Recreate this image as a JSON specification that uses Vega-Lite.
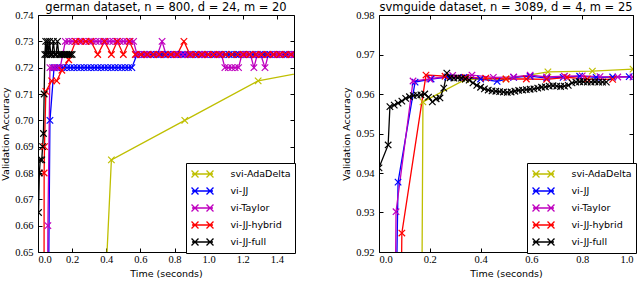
{
  "$schema": "https://vega.github.io/schema/vega-lite/v6.json",
  "padding": {"left": 0, "top": 1, "right": 0, "bottom": 0},
  "config": {
    "view": {"stroke": "#000000", "strokeWidth": 1},
    "font": "DejaVu Sans",
    "axis": {"domain": false, "grid": false, "tickColor": "#000000", "tickSize": -4, "labelPadding": 9, "labelFont": "Liberation Serif", "labelFontSize": 10.5, "labelColor": "#000000", "titleFont": "DejaVu Sans", "titleFontSize": 9.5, "titleFontWeight": "normal", "titleColor": "#000000"},
    "axisX": {"labelPadding": 6},
    "title": {"font": "DejaVu Sans", "fontSize": 11.5, "fontWeight": "normal", "offset": -3, "color": "#000000"},
    "legend": {"orient": "none", "legendX": 148, "legendY": 148, "strokeColor": "#000000", "fillColor": "#ffffff", "padding": 4, "cornerRadius": 0, "title": null,
      "symbolType": "M-1.75,0L1.75,0M-1.83,-0.58L-0.67,0.58M-1.83,0.58L-0.67,-0.58M0.67,-0.58L1.83,0.58M0.67,0.58L1.83,-0.58",
      "symbolSize": 144, "symbolStrokeWidth": 1.3, "symbolOffset": 5.5, "labelOffset": 21, "labelFont": "DejaVu Sans", "labelFontSize": 9.5, "labelColor": "#000000", "rowPadding": 3}
  },
  "datasets": {
    "german": [
      {"m": "svi-AdaDelta", "t": 0.39, "a": 0.63},
      {"m": "svi-AdaDelta", "t": 0.43, "a": 0.685},
      {"m": "svi-AdaDelta", "t": 0.86, "a": 0.700},
      {"m": "svi-AdaDelta", "t": 1.29, "a": 0.715},
      {"m": "svi-AdaDelta", "t": 1.70, "a": 0.720},

      {"m": "vi-JJ", "t": 0.057, "a": 0.60},
      {"m": "vi-JJ", "t": 0.07, "a": 0.70},
      {"m": "vi-JJ", "t": 0.094, "a": 0.72},
      {"m": "vi-JJ", "t": 0.11, "a": 0.72},
      {"m": "vi-JJ", "t": 0.13, "a": 0.72},
      {"m": "vi-JJ", "t": 0.15, "a": 0.72},
      {"m": "vi-JJ", "t": 0.17, "a": 0.72},
      {"m": "vi-JJ", "t": 0.19, "a": 0.72},
      {"m": "vi-JJ", "t": 0.21, "a": 0.72},
      {"m": "vi-JJ", "t": 0.23, "a": 0.72},
      {"m": "vi-JJ", "t": 0.25, "a": 0.72},
      {"m": "vi-JJ", "t": 0.27, "a": 0.72},
      {"m": "vi-JJ", "t": 0.29, "a": 0.72},
      {"m": "vi-JJ", "t": 0.31, "a": 0.72},
      {"m": "vi-JJ", "t": 0.33, "a": 0.72},
      {"m": "vi-JJ", "t": 0.35, "a": 0.72},
      {"m": "vi-JJ", "t": 0.37, "a": 0.72},
      {"m": "vi-JJ", "t": 0.39, "a": 0.72},
      {"m": "vi-JJ", "t": 0.41, "a": 0.72},
      {"m": "vi-JJ", "t": 0.43, "a": 0.72},
      {"m": "vi-JJ", "t": 0.45, "a": 0.72},
      {"m": "vi-JJ", "t": 0.47, "a": 0.72},
      {"m": "vi-JJ", "t": 0.49, "a": 0.72},
      {"m": "vi-JJ", "t": 0.51, "a": 0.72},
      {"m": "vi-JJ", "t": 0.53, "a": 0.72},
      {"m": "vi-JJ", "t": 0.55, "a": 0.72},
      {"m": "vi-JJ", "t": 0.58, "a": 0.725},
      {"m": "vi-JJ", "t": 0.60, "a": 0.725},
      {"m": "vi-JJ", "t": 0.62, "a": 0.725},
      {"m": "vi-JJ", "t": 0.64, "a": 0.725},
      {"m": "vi-JJ", "t": 0.66, "a": 0.725},
      {"m": "vi-JJ", "t": 0.68, "a": 0.725},
      {"m": "vi-JJ", "t": 0.70, "a": 0.725},
      {"m": "vi-JJ", "t": 0.72, "a": 0.725},
      {"m": "vi-JJ", "t": 0.74, "a": 0.725},
      {"m": "vi-JJ", "t": 0.76, "a": 0.725},
      {"m": "vi-JJ", "t": 0.78, "a": 0.725},
      {"m": "vi-JJ", "t": 0.80, "a": 0.725},
      {"m": "vi-JJ", "t": 0.82, "a": 0.725},
      {"m": "vi-JJ", "t": 0.84, "a": 0.725},
      {"m": "vi-JJ", "t": 0.86, "a": 0.725},
      {"m": "vi-JJ", "t": 0.88, "a": 0.725},
      {"m": "vi-JJ", "t": 0.90, "a": 0.725},
      {"m": "vi-JJ", "t": 0.92, "a": 0.725},
      {"m": "vi-JJ", "t": 0.94, "a": 0.725},
      {"m": "vi-JJ", "t": 0.96, "a": 0.725},
      {"m": "vi-JJ", "t": 0.98, "a": 0.725},
      {"m": "vi-JJ", "t": 1.00, "a": 0.725},
      {"m": "vi-JJ", "t": 1.02, "a": 0.725},
      {"m": "vi-JJ", "t": 1.04, "a": 0.725},
      {"m": "vi-JJ", "t": 1.06, "a": 0.725},
      {"m": "vi-JJ", "t": 1.08, "a": 0.725},
      {"m": "vi-JJ", "t": 1.10, "a": 0.725},
      {"m": "vi-JJ", "t": 1.12, "a": 0.725},
      {"m": "vi-JJ", "t": 1.14, "a": 0.725},
      {"m": "vi-JJ", "t": 1.16, "a": 0.725},
      {"m": "vi-JJ", "t": 1.18, "a": 0.725},
      {"m": "vi-JJ", "t": 1.20, "a": 0.725},
      {"m": "vi-JJ", "t": 1.22, "a": 0.725},
      {"m": "vi-JJ", "t": 1.24, "a": 0.725},
      {"m": "vi-JJ", "t": 1.26, "a": 0.725},
      {"m": "vi-JJ", "t": 1.28, "a": 0.725},
      {"m": "vi-JJ", "t": 1.30, "a": 0.725},
      {"m": "vi-JJ", "t": 1.32, "a": 0.725},
      {"m": "vi-JJ", "t": 1.34, "a": 0.725},
      {"m": "vi-JJ", "t": 1.36, "a": 0.725},
      {"m": "vi-JJ", "t": 1.38, "a": 0.725},
      {"m": "vi-JJ", "t": 1.40, "a": 0.725},
      {"m": "vi-JJ", "t": 1.42, "a": 0.725},
      {"m": "vi-JJ", "t": 1.44, "a": 0.725},
      {"m": "vi-JJ", "t": 1.46, "a": 0.725},
      {"m": "vi-JJ", "t": 1.48, "a": 0.725},
      {"m": "vi-JJ", "t": 1.50, "a": 0.725},

      {"m": "vi-Taylor", "t": 0.053, "a": 0.60},
      {"m": "vi-Taylor", "t": 0.058, "a": 0.66},
      {"m": "vi-Taylor", "t": 0.07, "a": 0.72},
      {"m": "vi-Taylor", "t": 0.085, "a": 0.72},
      {"m": "vi-Taylor", "t": 0.10, "a": 0.72},
      {"m": "vi-Taylor", "t": 0.115, "a": 0.72},
      {"m": "vi-Taylor", "t": 0.13, "a": 0.72},
      {"m": "vi-Taylor", "t": 0.16, "a": 0.73},
      {"m": "vi-Taylor", "t": 0.18, "a": 0.73},
      {"m": "vi-Taylor", "t": 0.20, "a": 0.73},
      {"m": "vi-Taylor", "t": 0.22, "a": 0.73},
      {"m": "vi-Taylor", "t": 0.24, "a": 0.73},
      {"m": "vi-Taylor", "t": 0.26, "a": 0.73},
      {"m": "vi-Taylor", "t": 0.28, "a": 0.73},
      {"m": "vi-Taylor", "t": 0.30, "a": 0.73},
      {"m": "vi-Taylor", "t": 0.32, "a": 0.73},
      {"m": "vi-Taylor", "t": 0.34, "a": 0.73},
      {"m": "vi-Taylor", "t": 0.36, "a": 0.73},
      {"m": "vi-Taylor", "t": 0.38, "a": 0.73},
      {"m": "vi-Taylor", "t": 0.40, "a": 0.73},
      {"m": "vi-Taylor", "t": 0.42, "a": 0.73},
      {"m": "vi-Taylor", "t": 0.44, "a": 0.73},
      {"m": "vi-Taylor", "t": 0.46, "a": 0.73},
      {"m": "vi-Taylor", "t": 0.48, "a": 0.73},
      {"m": "vi-Taylor", "t": 0.50, "a": 0.73},
      {"m": "vi-Taylor", "t": 0.52, "a": 0.73},
      {"m": "vi-Taylor", "t": 0.54, "a": 0.73},
      {"m": "vi-Taylor", "t": 0.56, "a": 0.73},
      {"m": "vi-Taylor", "t": 0.58, "a": 0.725},
      {"m": "vi-Taylor", "t": 0.60, "a": 0.725},
      {"m": "vi-Taylor", "t": 0.625, "a": 0.725},
      {"m": "vi-Taylor", "t": 0.65, "a": 0.725},
      {"m": "vi-Taylor", "t": 0.675, "a": 0.725},
      {"m": "vi-Taylor", "t": 0.70, "a": 0.725},
      {"m": "vi-Taylor", "t": 0.727, "a": 0.73},
      {"m": "vi-Taylor", "t": 0.75, "a": 0.725},
      {"m": "vi-Taylor", "t": 0.775, "a": 0.725},
      {"m": "vi-Taylor", "t": 0.80, "a": 0.725},
      {"m": "vi-Taylor", "t": 0.825, "a": 0.725},
      {"m": "vi-Taylor", "t": 0.85, "a": 0.725},
      {"m": "vi-Taylor", "t": 0.875, "a": 0.725},
      {"m": "vi-Taylor", "t": 0.90, "a": 0.725},
      {"m": "vi-Taylor", "t": 0.925, "a": 0.725},
      {"m": "vi-Taylor", "t": 0.95, "a": 0.725},
      {"m": "vi-Taylor", "t": 0.975, "a": 0.725},
      {"m": "vi-Taylor", "t": 1.00, "a": 0.725},
      {"m": "vi-Taylor", "t": 1.025, "a": 0.725},
      {"m": "vi-Taylor", "t": 1.05, "a": 0.725},
      {"m": "vi-Taylor", "t": 1.075, "a": 0.725},
      {"m": "vi-Taylor", "t": 1.095, "a": 0.72},
      {"m": "vi-Taylor", "t": 1.115, "a": 0.72},
      {"m": "vi-Taylor", "t": 1.135, "a": 0.72},
      {"m": "vi-Taylor", "t": 1.155, "a": 0.72},
      {"m": "vi-Taylor", "t": 1.175, "a": 0.72},
      {"m": "vi-Taylor", "t": 1.195, "a": 0.725},
      {"m": "vi-Taylor", "t": 1.22, "a": 0.725},
      {"m": "vi-Taylor", "t": 1.245, "a": 0.725},
      {"m": "vi-Taylor", "t": 1.265, "a": 0.72},
      {"m": "vi-Taylor", "t": 1.285, "a": 0.725},
      {"m": "vi-Taylor", "t": 1.305, "a": 0.725},
      {"m": "vi-Taylor", "t": 1.33, "a": 0.72},
      {"m": "vi-Taylor", "t": 1.35, "a": 0.725},
      {"m": "vi-Taylor", "t": 1.375, "a": 0.725},
      {"m": "vi-Taylor", "t": 1.40, "a": 0.725},
      {"m": "vi-Taylor", "t": 1.425, "a": 0.725},
      {"m": "vi-Taylor", "t": 1.45, "a": 0.725},
      {"m": "vi-Taylor", "t": 1.475, "a": 0.725},
      {"m": "vi-Taylor", "t": 1.50, "a": 0.725},

      {"m": "vi-JJ-hybrid", "t": 0.034, "a": 0.55},
      {"m": "vi-JJ-hybrid", "t": 0.036, "a": 0.68},
      {"m": "vi-JJ-hybrid", "t": 0.038, "a": 0.69},
      {"m": "vi-JJ-hybrid", "t": 0.046, "a": 0.711},
      {"m": "vi-JJ-hybrid", "t": 0.08, "a": 0.715},
      {"m": "vi-JJ-hybrid", "t": 0.11, "a": 0.715},
      {"m": "vi-JJ-hybrid", "t": 0.14, "a": 0.719},
      {"m": "vi-JJ-hybrid", "t": 0.18, "a": 0.723},
      {"m": "vi-JJ-hybrid", "t": 0.22, "a": 0.73},
      {"m": "vi-JJ-hybrid", "t": 0.25, "a": 0.73},
      {"m": "vi-JJ-hybrid", "t": 0.28, "a": 0.73},
      {"m": "vi-JJ-hybrid", "t": 0.31, "a": 0.73},
      {"m": "vi-JJ-hybrid", "t": 0.35, "a": 0.725},
      {"m": "vi-JJ-hybrid", "t": 0.39, "a": 0.73},
      {"m": "vi-JJ-hybrid", "t": 0.43, "a": 0.725},
      {"m": "vi-JJ-hybrid", "t": 0.465, "a": 0.73},
      {"m": "vi-JJ-hybrid", "t": 0.50, "a": 0.725},
      {"m": "vi-JJ-hybrid", "t": 0.535, "a": 0.73},
      {"m": "vi-JJ-hybrid", "t": 0.57, "a": 0.725},
      {"m": "vi-JJ-hybrid", "t": 0.605, "a": 0.725},
      {"m": "vi-JJ-hybrid", "t": 0.64, "a": 0.725},
      {"m": "vi-JJ-hybrid", "t": 0.675, "a": 0.725},
      {"m": "vi-JJ-hybrid", "t": 0.71, "a": 0.725},
      {"m": "vi-JJ-hybrid", "t": 0.745, "a": 0.725},
      {"m": "vi-JJ-hybrid", "t": 0.78, "a": 0.725},
      {"m": "vi-JJ-hybrid", "t": 0.815, "a": 0.725},
      {"m": "vi-JJ-hybrid", "t": 0.855, "a": 0.73},
      {"m": "vi-JJ-hybrid", "t": 0.89, "a": 0.725},
      {"m": "vi-JJ-hybrid", "t": 0.925, "a": 0.725},
      {"m": "vi-JJ-hybrid", "t": 0.96, "a": 0.725},
      {"m": "vi-JJ-hybrid", "t": 0.995, "a": 0.725},
      {"m": "vi-JJ-hybrid", "t": 1.03, "a": 0.725},
      {"m": "vi-JJ-hybrid", "t": 1.065, "a": 0.725},
      {"m": "vi-JJ-hybrid", "t": 1.10, "a": 0.725},
      {"m": "vi-JJ-hybrid", "t": 1.135, "a": 0.725},
      {"m": "vi-JJ-hybrid", "t": 1.17, "a": 0.725},
      {"m": "vi-JJ-hybrid", "t": 1.205, "a": 0.725},
      {"m": "vi-JJ-hybrid", "t": 1.24, "a": 0.725},
      {"m": "vi-JJ-hybrid", "t": 1.275, "a": 0.725},
      {"m": "vi-JJ-hybrid", "t": 1.31, "a": 0.725},
      {"m": "vi-JJ-hybrid", "t": 1.345, "a": 0.725},
      {"m": "vi-JJ-hybrid", "t": 1.38, "a": 0.725},
      {"m": "vi-JJ-hybrid", "t": 1.415, "a": 0.725},
      {"m": "vi-JJ-hybrid", "t": 1.45, "a": 0.725},
      {"m": "vi-JJ-hybrid", "t": 1.485, "a": 0.725},

      {"m": "vi-JJ-full", "t": 0.003, "a": 0.665},
      {"m": "vi-JJ-full", "t": 0.008, "a": 0.68},
      {"m": "vi-JJ-full", "t": 0.013, "a": 0.685},
      {"m": "vi-JJ-full", "t": 0.022, "a": 0.685},
      {"m": "vi-JJ-full", "t": 0.027, "a": 0.69},
      {"m": "vi-JJ-full", "t": 0.032, "a": 0.695},
      {"m": "vi-JJ-full", "t": 0.036, "a": 0.71},
      {"m": "vi-JJ-full", "t": 0.04, "a": 0.725},
      {"m": "vi-JJ-full", "t": 0.045, "a": 0.73},
      {"m": "vi-JJ-full", "t": 0.05, "a": 0.725},
      {"m": "vi-JJ-full", "t": 0.056, "a": 0.73},
      {"m": "vi-JJ-full", "t": 0.062, "a": 0.725},
      {"m": "vi-JJ-full", "t": 0.068, "a": 0.73},
      {"m": "vi-JJ-full", "t": 0.075, "a": 0.725},
      {"m": "vi-JJ-full", "t": 0.082, "a": 0.725},
      {"m": "vi-JJ-full", "t": 0.09, "a": 0.73},
      {"m": "vi-JJ-full", "t": 0.098, "a": 0.725},
      {"m": "vi-JJ-full", "t": 0.106, "a": 0.725},
      {"m": "vi-JJ-full", "t": 0.114, "a": 0.73},
      {"m": "vi-JJ-full", "t": 0.122, "a": 0.725},
      {"m": "vi-JJ-full", "t": 0.13, "a": 0.725},
      {"m": "vi-JJ-full", "t": 0.14, "a": 0.725},
      {"m": "vi-JJ-full", "t": 0.15, "a": 0.725},
      {"m": "vi-JJ-full", "t": 0.16, "a": 0.725},
      {"m": "vi-JJ-full", "t": 0.17, "a": 0.725},
      {"m": "vi-JJ-full", "t": 0.18, "a": 0.725},
      {"m": "vi-JJ-full", "t": 0.19, "a": 0.725},
      {"m": "vi-JJ-full", "t": 0.20, "a": 0.725}
    ],
    "svmguide": [
      {"m": "svi-AdaDelta", "t": 0.168, "a": 0.90},
      {"m": "svi-AdaDelta", "t": 0.173, "a": 0.958},
      {"m": "svi-AdaDelta", "t": 0.34, "a": 0.9637},
      {"m": "svi-AdaDelta", "t": 0.50, "a": 0.9638},
      {"m": "svi-AdaDelta", "t": 0.665, "a": 0.9656},
      {"m": "svi-AdaDelta", "t": 0.84, "a": 0.9658},
      {"m": "svi-AdaDelta", "t": 1.0, "a": 0.9663},

      {"m": "vi-JJ", "t": 0.066, "a": 0.90},
      {"m": "vi-JJ", "t": 0.075, "a": 0.9377},
      {"m": "vi-JJ", "t": 0.142, "a": 0.963},
      {"m": "vi-JJ", "t": 0.205, "a": 0.9638},
      {"m": "vi-JJ", "t": 0.27, "a": 0.9643},
      {"m": "vi-JJ", "t": 0.335, "a": 0.9642},
      {"m": "vi-JJ", "t": 0.40, "a": 0.9638},
      {"m": "vi-JJ", "t": 0.465, "a": 0.9632},
      {"m": "vi-JJ", "t": 0.53, "a": 0.9642},
      {"m": "vi-JJ", "t": 0.595, "a": 0.9645},
      {"m": "vi-JJ", "t": 0.66, "a": 0.964},
      {"m": "vi-JJ", "t": 0.725, "a": 0.9642},
      {"m": "vi-JJ", "t": 0.79, "a": 0.9645},
      {"m": "vi-JJ", "t": 0.855, "a": 0.9642},
      {"m": "vi-JJ", "t": 0.92, "a": 0.9643},
      {"m": "vi-JJ", "t": 0.985, "a": 0.9644},

      {"m": "vi-Taylor", "t": 0.063, "a": 0.90},
      {"m": "vi-Taylor", "t": 0.067, "a": 0.9302},
      {"m": "vi-Taylor", "t": 0.134, "a": 0.9633},
      {"m": "vi-Taylor", "t": 0.20, "a": 0.9638},
      {"m": "vi-Taylor", "t": 0.29, "a": 0.9647},
      {"m": "vi-Taylor", "t": 0.366, "a": 0.9648},
      {"m": "vi-Taylor", "t": 0.45, "a": 0.9642},
      {"m": "vi-Taylor", "t": 0.53, "a": 0.9643},
      {"m": "vi-Taylor", "t": 0.595, "a": 0.9648},
      {"m": "vi-Taylor", "t": 0.66, "a": 0.9643},
      {"m": "vi-Taylor", "t": 0.73, "a": 0.9645},
      {"m": "vi-Taylor", "t": 0.80, "a": 0.9646},
      {"m": "vi-Taylor", "t": 0.87, "a": 0.9644},
      {"m": "vi-Taylor", "t": 0.94, "a": 0.9643},
      {"m": "vi-Taylor", "t": 1.0, "a": 0.9643},

      {"m": "vi-JJ-hybrid", "t": 0.086, "a": 0.90},
      {"m": "vi-JJ-hybrid", "t": 0.09, "a": 0.9248},
      {"m": "vi-JJ-hybrid", "t": 0.185, "a": 0.9648},
      {"m": "vi-JJ-hybrid", "t": 0.26, "a": 0.9645},
      {"m": "vi-JJ-hybrid", "t": 0.34, "a": 0.9642},
      {"m": "vi-JJ-hybrid", "t": 0.42, "a": 0.964},
      {"m": "vi-JJ-hybrid", "t": 0.50, "a": 0.9638},
      {"m": "vi-JJ-hybrid", "t": 0.58, "a": 0.9638},
      {"m": "vi-JJ-hybrid", "t": 0.66, "a": 0.9637},
      {"m": "vi-JJ-hybrid", "t": 0.74, "a": 0.9642},
      {"m": "vi-JJ-hybrid", "t": 0.82, "a": 0.9638},
      {"m": "vi-JJ-hybrid", "t": 0.92, "a": 0.9637},

      {"m": "vi-JJ-full", "t": 0.0, "a": 0.9413},
      {"m": "vi-JJ-full", "t": 0.036, "a": 0.9471},
      {"m": "vi-JJ-full", "t": 0.043, "a": 0.9568},
      {"m": "vi-JJ-full", "t": 0.06, "a": 0.9572},
      {"m": "vi-JJ-full", "t": 0.075, "a": 0.9577},
      {"m": "vi-JJ-full", "t": 0.09, "a": 0.9582},
      {"m": "vi-JJ-full", "t": 0.105, "a": 0.9589},
      {"m": "vi-JJ-full", "t": 0.12, "a": 0.9593},
      {"m": "vi-JJ-full", "t": 0.135, "a": 0.9596},
      {"m": "vi-JJ-full", "t": 0.15, "a": 0.9597},
      {"m": "vi-JJ-full", "t": 0.165, "a": 0.9598},
      {"m": "vi-JJ-full", "t": 0.18, "a": 0.960},
      {"m": "vi-JJ-full", "t": 0.195, "a": 0.9592},
      {"m": "vi-JJ-full", "t": 0.21, "a": 0.958},
      {"m": "vi-JJ-full", "t": 0.225, "a": 0.9588},
      {"m": "vi-JJ-full", "t": 0.24, "a": 0.959},
      {"m": "vi-JJ-full", "t": 0.255, "a": 0.9615},
      {"m": "vi-JJ-full", "t": 0.267, "a": 0.9653},
      {"m": "vi-JJ-full", "t": 0.28, "a": 0.9641},
      {"m": "vi-JJ-full", "t": 0.295, "a": 0.964},
      {"m": "vi-JJ-full", "t": 0.31, "a": 0.9641},
      {"m": "vi-JJ-full", "t": 0.325, "a": 0.964},
      {"m": "vi-JJ-full", "t": 0.34, "a": 0.9638},
      {"m": "vi-JJ-full", "t": 0.355, "a": 0.9635},
      {"m": "vi-JJ-full", "t": 0.37, "a": 0.9628},
      {"m": "vi-JJ-full", "t": 0.385, "a": 0.9622},
      {"m": "vi-JJ-full", "t": 0.40, "a": 0.9617},
      {"m": "vi-JJ-full", "t": 0.415, "a": 0.9613},
      {"m": "vi-JJ-full", "t": 0.43, "a": 0.961},
      {"m": "vi-JJ-full", "t": 0.445, "a": 0.9608},
      {"m": "vi-JJ-full", "t": 0.46, "a": 0.9607},
      {"m": "vi-JJ-full", "t": 0.475, "a": 0.9606},
      {"m": "vi-JJ-full", "t": 0.49, "a": 0.9605},
      {"m": "vi-JJ-full", "t": 0.505, "a": 0.9604},
      {"m": "vi-JJ-full", "t": 0.52, "a": 0.9605},
      {"m": "vi-JJ-full", "t": 0.535, "a": 0.9607},
      {"m": "vi-JJ-full", "t": 0.55, "a": 0.9609},
      {"m": "vi-JJ-full", "t": 0.565, "a": 0.961},
      {"m": "vi-JJ-full", "t": 0.58, "a": 0.9611},
      {"m": "vi-JJ-full", "t": 0.595, "a": 0.9612},
      {"m": "vi-JJ-full", "t": 0.61, "a": 0.9613},
      {"m": "vi-JJ-full", "t": 0.625, "a": 0.9615},
      {"m": "vi-JJ-full", "t": 0.64, "a": 0.9617},
      {"m": "vi-JJ-full", "t": 0.655, "a": 0.9618},
      {"m": "vi-JJ-full", "t": 0.67, "a": 0.962},
      {"m": "vi-JJ-full", "t": 0.685, "a": 0.9621},
      {"m": "vi-JJ-full", "t": 0.70, "a": 0.962},
      {"m": "vi-JJ-full", "t": 0.715, "a": 0.9619},
      {"m": "vi-JJ-full", "t": 0.73, "a": 0.962},
      {"m": "vi-JJ-full", "t": 0.745, "a": 0.9622},
      {"m": "vi-JJ-full", "t": 0.76, "a": 0.9628},
      {"m": "vi-JJ-full", "t": 0.775, "a": 0.963},
      {"m": "vi-JJ-full", "t": 0.79, "a": 0.9631},
      {"m": "vi-JJ-full", "t": 0.805, "a": 0.9631},
      {"m": "vi-JJ-full", "t": 0.82, "a": 0.963},
      {"m": "vi-JJ-full", "t": 0.835, "a": 0.963},
      {"m": "vi-JJ-full", "t": 0.85, "a": 0.9631},
      {"m": "vi-JJ-full", "t": 0.865, "a": 0.963},
      {"m": "vi-JJ-full", "t": 0.88, "a": 0.963},
      {"m": "vi-JJ-full", "t": 0.895, "a": 0.963}
    ]
  },
  "hconcat": [
    {
      "title": "german dataset, n = 800, d = 24, m = 20",
      "width": 256,
      "height": 237,
      "data": {"name": "german"},
      "layer": [
        {
          "mark": {"type": "line", "clip": true, "strokeWidth": 1.3},
          "encoding": {
            "x": {"field": "t", "type": "quantitative", "scale": {"domain": [0, 1.5], "nice": false, "zero": false},
              "axis": {"orient": "bottom", "title": "Time (seconds)", "values": [0, 0.2, 0.4, 0.6, 0.8, 1.0, 1.2, 1.4], "format": ".1f", "titlePadding": 4}},
            "y": {"field": "a", "type": "quantitative", "scale": {"domain": [0.65, 0.74], "nice": false, "zero": false},
              "axis": {"orient": "left", "title": "Validation Accuracy", "values": [0.65, 0.66, 0.67, 0.68, 0.69, 0.70, 0.71, 0.72, 0.73, 0.74], "format": ".2f", "titlePadding": 4}},
            "color": {"field": "m", "type": "nominal",
              "scale": {"domain": ["svi-AdaDelta", "vi-JJ", "vi-Taylor", "vi-JJ-hybrid", "vi-JJ-full"], "range": ["#bfbf00", "#0000ff", "#bf00bf", "#ff0000", "#000000"]},
              "legend": {"title": null}}
          }
        },
        {
          "mark": {"type": "point", "clip": true, "shape": "M-1,-1L1,1M-1,1L1,-1", "filled": false, "size": 42, "strokeWidth": 1.2, "opacity": 1},
          "encoding": {
            "x": {"field": "t", "type": "quantitative", "axis": {"orient": "top", "labels": false, "title": null, "values": [0, 0.2, 0.4, 0.6, 0.8, 1.0, 1.2, 1.4]}},
            "y": {"field": "a", "type": "quantitative", "axis": {"orient": "right", "labels": false, "title": null, "values": [0.65, 0.66, 0.67, 0.68, 0.69, 0.70, 0.71, 0.72, 0.73, 0.74]}},
            "color": {"field": "m", "type": "nominal", "legend": null}
          }
        }
      ],
      "resolve": {"axis": {"x": "independent", "y": "independent"}}
    },
    {
      "title": "svmguide dataset, n = 3089, d = 4, m = 25",
      "width": 254,
      "height": 237,
      "data": {"name": "svmguide"},
      "layer": [
        {
          "mark": {"type": "line", "clip": true, "strokeWidth": 1.3},
          "encoding": {
            "x": {"field": "t", "type": "quantitative", "scale": {"domain": [0, 1.0], "nice": false, "zero": false},
              "axis": {"orient": "bottom", "title": "Time (seconds)", "values": [0, 0.2, 0.4, 0.6, 0.8, 1.0], "format": ".1f", "titlePadding": 4}},
            "y": {"field": "a", "type": "quantitative", "scale": {"domain": [0.92, 0.98], "nice": false, "zero": false},
              "axis": {"orient": "left", "title": "Validation Accuracy", "values": [0.92, 0.93, 0.94, 0.95, 0.96, 0.97, 0.98], "format": ".2f", "titlePadding": 4}},
            "color": {"field": "m", "type": "nominal",
              "scale": {"domain": ["svi-AdaDelta", "vi-JJ", "vi-Taylor", "vi-JJ-hybrid", "vi-JJ-full"], "range": ["#bfbf00", "#0000ff", "#bf00bf", "#ff0000", "#000000"]},
              "legend": {"title": null}}
          }
        },
        {
          "mark": {"type": "point", "clip": true, "shape": "M-1,-1L1,1M-1,1L1,-1", "filled": false, "size": 42, "strokeWidth": 1.2, "opacity": 1},
          "encoding": {
            "x": {"field": "t", "type": "quantitative", "axis": {"orient": "top", "labels": false, "title": null, "values": [0, 0.2, 0.4, 0.6, 0.8, 1.0]}},
            "y": {"field": "a", "type": "quantitative", "axis": {"orient": "right", "labels": false, "title": null, "values": [0.92, 0.93, 0.94, 0.95, 0.96, 0.97, 0.98]}},
            "color": {"field": "m", "type": "nominal", "legend": null}
          }
        }
      ],
      "resolve": {"axis": {"x": "independent", "y": "independent"}}
    }
  ],
  "spacing": 45,
  "resolve": {"scale": {"color": "independent"}, "legend": {"color": "independent"}}
}
